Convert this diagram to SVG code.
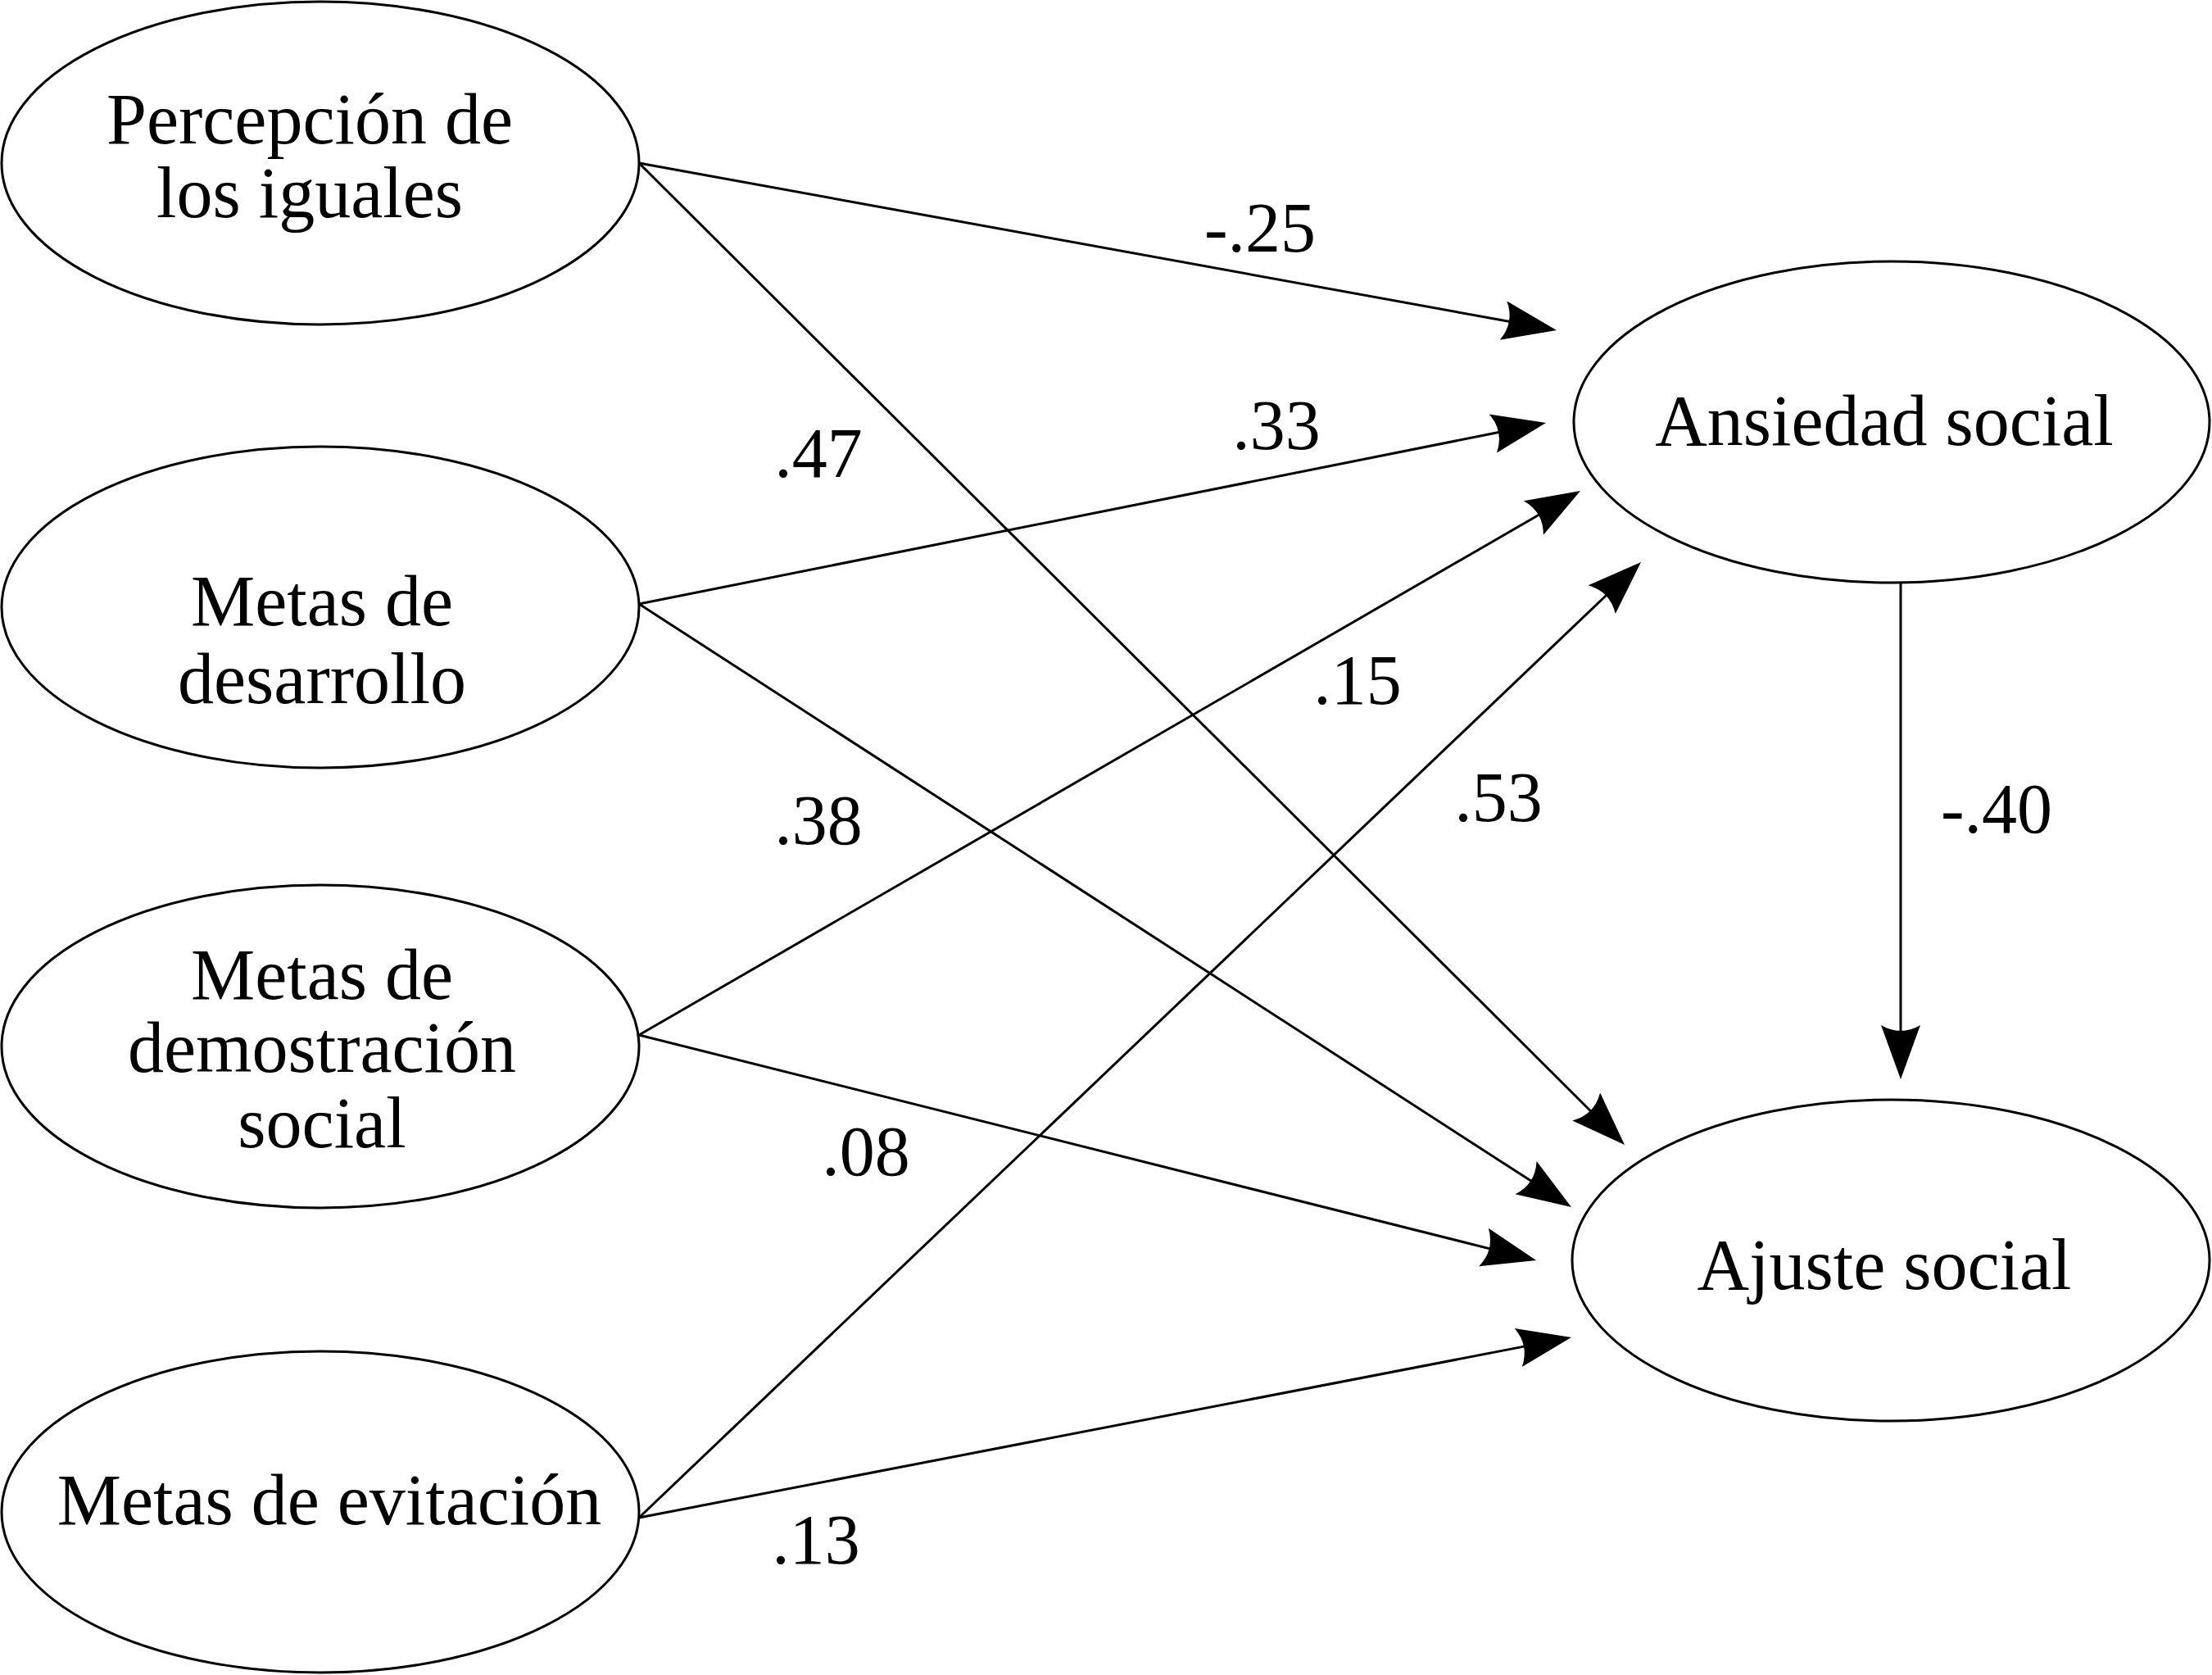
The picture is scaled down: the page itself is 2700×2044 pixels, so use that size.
<svg xmlns="http://www.w3.org/2000/svg" width="2700" height="2044" viewBox="0 0 2700 2044">
<style>
.node ellipse{fill:#fff;stroke:#000;stroke-width:3}
.node text{font-family:"Liberation Serif","Times New Roman",serif;font-size:88px;fill:#000;text-anchor:middle}
.edges line{stroke:#000;stroke-width:3;fill:none;marker-end:url(#arr)}
.lbl{font-family:"Liberation Serif","Times New Roman",serif;font-size:86px;fill:#000;text-anchor:middle}
</style>
<defs>
<marker id="arr" viewBox="0 -30 70 60" markerUnits="userSpaceOnUse" markerWidth="70" markerHeight="60" refX="11" refY="0" orient="auto">
<path d="M0,-24 L66,0 L0,24 Q14,0 0,-24 Z" fill="#000"/>
</marker>
</defs>
<rect width="2700" height="2044" fill="#fff"/>
<g class="edges" id="connectors">
<line x1="780" y1="199" x2="1845.9" y2="393.1"/>
<line x1="780" y1="199" x2="1944" y2="1358.2"/>
<line x1="780" y1="737" x2="1833.1" y2="526.8"/>
<line x1="780" y1="737" x2="1871.8" y2="1443.1"/>
<line x1="780" y1="1263" x2="1881.4" y2="626.5"/>
<line x1="780" y1="1263" x2="1821.7" y2="1524.6"/>
<line x1="780" y1="1852" x2="1963.2" y2="724"/>
<line x1="780" y1="1852" x2="1864" y2="1642.4"/>
<line x1="2320" y1="711" x2="2320" y2="1262"/>
</g>
<g id="labels">
<text class="lbl" x="1538" y="307">-.25</text>
<text class="lbl" x="999" y="582">.47</text>
<text class="lbl" x="1558" y="548">.33</text>
<text class="lbl" x="1657" y="859">.15</text>
<text class="lbl" x="1829" y="1002">.53</text>
<text class="lbl" x="999" y="1030">.38</text>
<text class="lbl" x="1057" y="1434">.08</text>
<text class="lbl" x="996" y="1908">.13</text>
<text class="lbl" x="2437" y="1016">-.40</text>
</g>
<g class="node" id="percepcion">
<ellipse cx="391" cy="199" rx="389" ry="197"/>
<text x="378" y="175">Percepción de</text>
<text x="378" y="265">los iguales</text>
</g>
<g class="node" id="desarrollo">
<ellipse cx="391" cy="741" rx="389" ry="196"/>
<text x="393" y="763">Metas de</text>
<text x="393" y="858">desarrollo</text>
</g>
<g class="node" id="demostracion">
<ellipse cx="391" cy="1277" rx="389" ry="197"/>
<text x="393" y="1219">Metas de</text>
<text x="393" y="1308">demostración</text>
<text x="393" y="1400">social</text>
</g>
<g class="node" id="evitacion">
<ellipse cx="391" cy="1845" rx="389" ry="196"/>
<text x="402" y="1860">Metas de evitación</text>
</g>
<g class="node" id="ansiedad">
<ellipse cx="2309" cy="515" rx="388" ry="196"/>
<text x="2300" y="543">Ansiedad social</text>
</g>
<g class="node" id="ajuste">
<ellipse cx="2308" cy="1538" rx="389" ry="196"/>
<text x="2300" y="1573">Ajuste social</text>
</g>
</svg>
